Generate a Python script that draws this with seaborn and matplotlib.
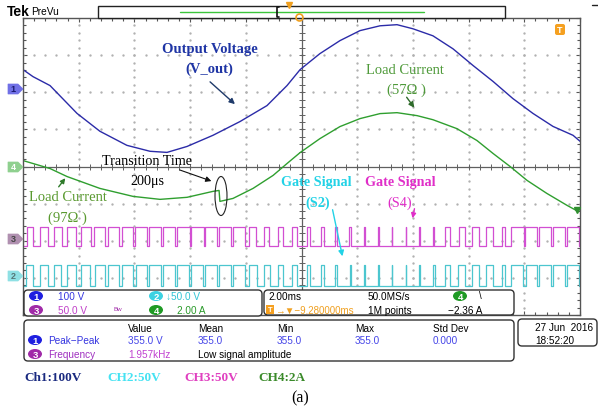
import numpy as np
import pandas as pd
import matplotlib
matplotlib.use("Agg")
import matplotlib.pyplot as plt
import seaborn as sns
from matplotlib.patches import FancyBboxPatch, Ellipse, Polygon, Rectangle

# ---------------- data ----------------
# Ch1 output voltage (V) vs time (ms)
t_v = [0.00, 0.36, 0.97, 1.94, 2.76, 3.73, 4.56, 5.17, 5.89, 6.82, 7.79, 8.76, 9.48,
       9.95, 10.66, 11.38, 12.10, 12.82, 13.43, 14.00, 14.72, 15.44, 16.16, 16.88,
       17.59, 18.31, 19.03, 19.75, 20.0]
v_out = [51, 32, 8, -67, -115, -153, -169, -172, -156, -126, -89, -46, 8,
         51, 94, 129, 156, 169, 172, 161, 142, 107, 62, 19,
         -27, -67, -102, -126, -142]

# Ch4 load current (A) vs time (ms)
t_i = [0.00, 0.97, 1.58, 2.76, 3.95, 4.92, 5.89, 6.82, 7.04, 7.07, 7.54, 8.26, 8.98,
       9.48, 9.95, 10.66, 11.38, 12.10, 12.82, 13.43, 14.15, 14.72, 15.58, 16.30,
       16.88, 17.49, 18.10, 18.81, 19.53, 19.93]
i_load = [0.32, -0.11, -0.54, -1.18, -1.61, -1.77, -1.66, -1.34, -1.29, -1.88, -1.72,
          -1.18, -0.48, 0.16, 0.75, 1.50, 2.15, 2.58, 2.85, 2.90, 2.74, 2.52, 2.04,
          1.40, 0.70, 0.0, -0.75, -1.45, -2.09, -2.42]

# Gate signals: duty (fraction high) of each 0.5 ms PWM period
pwm_period_ms = 0.5
s4_duty = [0.45, 0.55, 0.6, 0.65, 0.7, 0.75, 0.8, 0.82, 0.85, 0.88,
           0.9, 0.92, 0.93, 0.93, 0.92, 0.88, 0.5, 0.4, 0.35, 0.3,
           0.25, 0.2, 0.16, 0.12, 0.08, 0.06, 0.05, 0.05, 0.06, 0.1,
           0.35, 0.45, 0.5, 0.5, 0.2, 0.9, 0.85, 0.88, 0.9, 0.9]
s2_duty = [0.5, 0.55, 0.5, 0.62, 0.68, 0.72, 0.78, 0.8, 0.84, 0.86,
           0.9, 0.9, 0.92, 0.9, 0.9, 0.85, 0.55, 0.45, 0.4, 0.32,
           0.28, 0.22, 0.15, 0.1, 0.07, 0.06, 0.05, 0.05, 0.06, 0.12,
           0.4, 0.5, 0.5, 0.55, 0.25, 0.85, 0.82, 0.86, 0.88, 0.9]
s4_levels = (-9.0, 16.0)    # V (low, high)
s2_levels = (-13.5, 16.0)   # V (low, high)

# channel scales (units/div) and on-screen ground offsets (div)
scale = {"ch1": 100.0, "ch2": 50.0, "ch3": 50.0, "ch4": 2.0}
offset = {"ch1": 2.1, "ch2": -2.96, "ch3": -1.96, "ch4": 0.0}

# ---------------- figure ----------------
sns.set_theme(style="white")
plt.rcParams["font.family"] = ["DejaVu Sans"]
W, H = 598, 410
fig = plt.figure(figsize=(W / 100, H / 100), dpi=100)
fig.patch.set_facecolor("white")

gx0, gx1, gy0, gy1 = 23, 580, 19, 316
ax = fig.add_axes([gx0 / W, 1 - gy1 / H, (gx1 - gx0) / W, (gy1 - gy0) / H])
ax.set_xlim(0, 20)
ax.set_ylim(-4, 4)
ax.set_facecolor("white")
for s in ax.spines.values():
    s.set_color("#555555")
    s.set_linewidth(1.0)
ax.set_xticks(np.arange(0, 21, 2))
ax.set_yticks(np.arange(-4, 5, 1))
ax.set_xticks(np.arange(0, 20.01, 0.4), minor=True)
ax.set_yticks(np.arange(-4, 4.01, 0.2), minor=True)
ax.tick_params(which="both", direction="in", top=True, right=True, bottom=True, left=True,
               labelbottom=False, labelleft=False, color="#555555", width=0.8)
ax.tick_params(which="major", length=3)
ax.tick_params(which="minor", length=2.5)

# dotted graticule
dot_y = np.arange(-4, 4.01, 0.2)
dot_x = np.arange(0, 20.01, 0.4)
for gxv in np.arange(2, 20, 2):
    if gxv == 10:
        continue
    ax.plot(np.full_like(dot_y, gxv), dot_y, ls="none", marker="o", ms=0.7, color="#b0b0b0", zorder=1)
for gyv in np.arange(-3, 4, 1):
    if gyv == 0:
        continue
    ax.plot(dot_x, np.full_like(dot_x, gyv), ls="none", marker="o", ms=0.7, color="#b0b0b0", zorder=1)
# centre cross with ticks
ax.axhline(0, color="#606060", lw=0.9, zorder=1)
ax.axvline(10, color="#606060", lw=0.9, zorder=1)
ax.plot(dot_x, np.zeros_like(dot_x), ls="none", marker="|", ms=4, mew=0.7, color="#606060", zorder=1)
ax.plot(np.full_like(dot_y, 10), dot_y, ls="none", marker="_", ms=4, mew=0.7, color="#606060", zorder=1)


def square(duty, period, lo, hi):
    xs, ys = [0.0], [lo]
    for k, d in enumerate(duty):
        t0 = k * period
        a = t0 + (1 - d) / 2 * period
        b = t0 + (1 + d) / 2 * period
        xs += [a, a, b, b]
        ys += [lo, hi, hi, lo]
    xs.append(len(duty) * period)
    ys.append(lo)
    return np.array(xs), np.array(ys)


df_v = pd.DataFrame({"t": t_v, "y": offset["ch1"] + np.array(v_out) / scale["ch1"]})
df_i = pd.DataFrame({"t": t_i, "y": offset["ch4"] + np.array(i_load) / scale["ch4"]})
x4, y4 = square(s4_duty, pwm_period_ms, *s4_levels)
x2, y2 = square(s2_duty, pwm_period_ms, *s2_levels)
df_s4 = pd.DataFrame({"t": x4, "y": offset["ch3"] + y4 / scale["ch3"]})
df_s2 = pd.DataFrame({"t": x2, "y": offset["ch2"] + y2 / scale["ch2"]})

sns.lineplot(data=df_s4, x="t", y="y", ax=ax, sort=False, estimator=None, color="#d24fd2", lw=0.9)
sns.lineplot(data=df_s2, x="t", y="y", ax=ax, sort=False, estimator=None, color="#4cc6cf", lw=0.9)
sns.lineplot(data=df_i, x="t", y="y", ax=ax, sort=False, estimator=None, color="#2f9f2f", lw=1.0)
sns.lineplot(data=df_v, x="t", y="y", ax=ax, sort=False, estimator=None, color="#2b2ba8", lw=1.0)
ax.set_xlabel("")
ax.set_ylabel("")

# ---------------- overlay in pixel coordinates ----------------
ov = fig.add_axes([0, 0, 1, 1])
ov.set_xlim(0, W)
ov.set_ylim(H, 0)
ov.axis("off")
ov.patch.set_alpha(0)

SERIF = ["Liberation Serif", "DejaVu Serif"]
UI = ["Liberation Sans", "DejaVu Sans"]


def T(x, y, s, color="black", size=7.2, weight="normal", family=UI, ha="left", va="center", z=6):
    ov.text(x, y, s, color=color, fontsize=size, fontweight=weight, family=family,
            ha=ha, va=va, zorder=z)


def box(x0, y0, x1, y1, r=4):
    ov.add_patch(FancyBboxPatch((x0, y0), x1 - x0, y1 - y0,
                                boxstyle=f"round,pad=0,rounding_size={r}",
                                fc="white", ec="#333333", lw=1.0, zorder=3))


def badge(x, y, s, fc, tc="white"):
    ov.add_patch(Ellipse((x, y), 14, 10, fc=fc, ec="none", zorder=4))
    ov.text(x, y + 0.3, s, color=tc, fontsize=6.8, fontweight="bold", family=UI,
            ha="center", va="center", zorder=5)


# header
T(7, 12, "Tek", size=10, weight="bold", family=UI)
T(31, 12, "PreVu", size=7.3, family=UI)
ov.add_patch(Rectangle((98, 7), 407, 12, fc="white", ec="#222222", lw=1.0))
ov.plot([180, 424], [12.5, 12.5], color="#3cc63c", lw=1.0)
ov.plot([279, 277, 277, 279], [8, 8, 18, 18], color="#111111", lw=1.2)
ov.plot([289], [6], marker="v", ms=4, color="#f0a020", ls="none")
ov.plot([299], [18], marker="o", ms=5, mfc="none", mec="#f0a020", mew=1.2, ls="none")
ov.plot([592, 598], [6, 6], color="#222222", lw=1.0)
# trigger level icon
ov.add_patch(FancyBboxPatch((555, 25), 10, 11, boxstyle="round,pad=0,rounding_size=2",
                            fc="#f5a020", ec="none"))
T(560, 30.5, "T", color="white", size=6.5, weight="bold", ha="center")

# channel markers on left
for (yc, lab, fc, tc) in [(90, "1", "#7070e6", "#1a1a70"), (168, "4", "#8fd08f", "#ffffff"),
                          (240, "3", "#b090b0", "#444444"), (277, "2", "#8fe0e4", "#557777")]:
    ov.add_patch(Polygon([[8, yc - 5], [18, yc - 5], [23, yc], [18, yc + 5], [8, yc + 5]],
                         closed=True, fc=fc, ec=fc, lw=0.5))
    T(13, yc, lab, color=tc, size=6.5, weight="bold", ha="center")

# annotations
T(210, 50, "Output Voltage", color="#1f35a5", size=10.5, weight="bold", family=SERIF, ha="center")
T(209, 69, "(V_out)", color="#1f35a5", size=10.5, weight="bold", family=SERIF, ha="center")
ov.annotate("", xy=(237, 107), xytext=(208, 81),
            arrowprops=dict(arrowstyle="-|>", color="#1f3a6a", lw=1.0, mutation_scale=8))
T(405, 71, "Load Current", color="#4f9a3a", size=10.5, family=SERIF, ha="center")
T(406, 90, "(57Ω )", color="#4f9a3a", size=10.5, family=SERIF, ha="center")
ov.annotate("", xy=(416, 111), xytext=(405, 96),
            arrowprops=dict(arrowstyle="-|>", color="#2e6a2a", lw=1.0, mutation_scale=8))
T(147, 162, "Transition Time", color="black", size=10.2, family=SERIF, ha="center")
T(147, 182, "200μs", color="black", size=10.2, family=SERIF, ha="center")
ov.annotate("", xy=(214, 183), xytext=(177, 170),
            arrowprops=dict(arrowstyle="-|>", color="#111111", lw=0.8, mutation_scale=8))
ov.add_patch(Ellipse((221, 197), 12, 39, fc="none", ec="#222222", lw=0.8))
T(68, 198, "Load Current", color="#5a9a30", size=10.5, family=SERIF, ha="center")
T(67, 218, "(97Ω )", color="#5a9a30", size=10.5, family=SERIF, ha="center")
ov.annotate("", xy=(67, 177), xytext=(57, 190),
            arrowprops=dict(arrowstyle="-|>", color="#2e7a2a", lw=1.0, mutation_scale=7))
T(316, 183, "Gate Signal", color="#22d2e6", size=10.2, weight="bold", family=SERIF, ha="center")
T(318, 203, "(S2)", color="#22d2e6", size=10.2, weight="bold", family=SERIF, ha="center")
ov.annotate("", xy=(343, 260), xytext=(332, 208),
            arrowprops=dict(arrowstyle="-|>", color="#22d2e6", lw=1.0, mutation_scale=8))
T(400, 183, "Gate Signal", color="#e02ec8", size=10.2, weight="bold", family=SERIF, ha="center")
T(400, 203, "(S4)", color="#e02ec8", size=10.2, family=SERIF, ha="center")
ov.annotate("", xy=(412, 222), xytext=(415, 207),
            arrowprops=dict(arrowstyle="-|>", color="#e02ec8", lw=1.0, mutation_scale=7))
ov.plot([577], [211], marker="v", ms=4, color="#2f8f2f", ls="none")

# channel settings box
box(24, 291, 262, 317)
badge(36, 297, "1", "#1f1fe0")
T(58, 297, "100 V", color="#3535e0")
badge(156, 297, "2", "#3cd2e2")
T(166, 297, "↓50.0 V", color="#30c4d4")
badge(36, 311, "3", "#a02aa8")
T(58, 311, "50.0 V", color="#c03ec8")
T(113, 310, "Bw", color="#a02aa8", size=4.5)
badge(156, 311, "4", "#1f9a24")
T(177, 311, "2.00 A", color="#2a9a2a")

# timebase box
box(264, 291, 514, 316)
T(268, 297, "2.00ms")
ov.add_patch(Rectangle((266, 306), 8, 9, fc="#f5a020", ec="none", zorder=4))
T(270, 310.5, "T", color="white", size=5.5, weight="bold", ha="center")
T(275, 311, "→▼−9.280000ms", color="#f0a020", size=7)
T(368, 297, "50.0MS/s")
T(368, 311, "1M points")
badge(460, 297, "4", "#1f9a24")
T(479, 296, "\\", size=7)
T(448, 311, "−2.36 A")

# measurement box
box(24, 321, 514, 362)
for xh, h in [(128, "Value"), (198, "Mean"), (277, "Min"), (355, "Max"), (433, "Std Dev")]:
    T(xh, 329, h)
badge(35, 341, "1", "#1f1fe0")
T(48, 341, "Peak−Peak", color="#3535e0")
for xh, h in [(128, "355.0 V"), (198, "355.0"), (277, "355.0"), (355, "355.0"), (433, "0.000")]:
    T(xh, 341, h, color="#4545e8")
badge(35, 355, "3", "#a02aa8")
T(48, 355, "Frequency", color="#a030c0")
T(128, 355, "1.957kHz", color="#c040d0")
T(198, 355, "Low signal amplitude")

# date box
box(518, 320, 597, 347)
T(535, 328, "27 Jun  2016")
T(535, 341, "18:52:20")

# channel legend and caption
T(24, 378, "Ch1:100V", color="#1a2a80", size=9.5, weight="bold", family=SERIF)
T(107, 378, "CH2:50V", color="#45e2f2", size=9.5, weight="bold", family=SERIF)
T(184, 378, "CH3:50V", color="#e040c0", size=9.5, weight="bold", family=SERIF)
T(258, 378, "CH4:2A", color="#3a8a2a", size=9.5, weight="bold", family=SERIF)
T(300, 398, "(a)", color="black", size=11.5, family=SERIF, ha="center")

fig.savefig("out.png", dpi=100, facecolor="white")
